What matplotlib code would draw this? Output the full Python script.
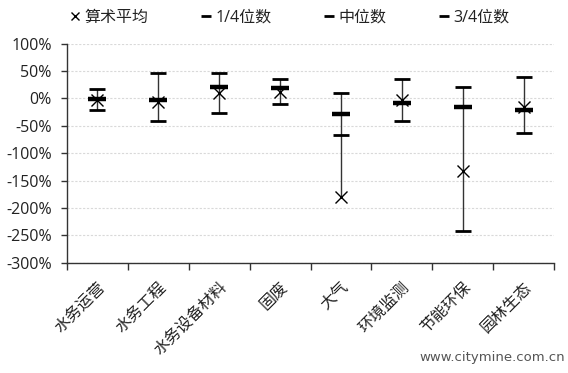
import numpy as np
import matplotlib
matplotlib.use("Agg")
import matplotlib.pyplot as plt
from matplotlib.lines import Line2D
from matplotlib.transforms import ScaledTranslation

plt.rcParams['font.family'] = ['Open Sans', 'Noto Sans CJK SC', 'DejaVu Sans']

# données (en %)
categories = ["水务运营", "水务工程", "水务设备材料", "固废", "大气", "环境监测", "节能环保", "园林生态"]
mean_vals = [-3, -6, 9, 12, -181, -4, -132, -15]
q1_vals = [-22, -41, -27, -11, -67, -41, -243, -64]
median_vals = [-2, -3, 21, 18, -28, -9, -15, -21]
q3_vals = [17, 47, 47, 35, 10, 35, 21, 39]
legend_labels = ["算术平均", "1/4位数", "中位数", "3/4位数"]

fig = plt.figure(figsize=(5.68, 3.73), dpi=100)
ax = fig.add_axes([67 / 568, 1 - 262.7 / 373, (554 - 67) / 568, (262.7 - 43.5) / 373])

x = np.arange(len(categories))
allv = np.array([mean_vals, q1_vals, median_vals, q3_vals])
lo = allv.min(axis=0)
hi = allv.max(axis=0)

# lignes haut-bas
ax.vlines(x, lo, hi, color="#333333", linewidth=1.0, zorder=2)
ax.plot(x, q1_vals, linestyle="none", marker="_", markersize=12, markeredgewidth=2, color="black", zorder=3)
ax.plot(x, q3_vals, linestyle="none", marker="_", markersize=12, markeredgewidth=2, color="black", zorder=3)
ax.plot(x, median_vals, linestyle="none", marker="_", markersize=13, markeredgewidth=3.2, color="black", zorder=4)
ax.plot(x, mean_vals, linestyle="none", marker="x", markersize=8, markeredgewidth=1.0, color="black", zorder=5)

ax.set_xlim(-0.5, len(categories) - 0.5)
ax.set_ylim(-300, 100)
ax.set_yticks(np.arange(-300, 101, 50))
ax.set_yticklabels([f"{v}%" for v in range(-300, 101, 50)], fontsize=11.5, color="#222222")
ax.yaxis.grid(True, color="#d9d9d9", linestyle=(0, (2, 1.5)), linewidth=0.8)
ax.set_axisbelow(True)

# ticks aux limites des catégories
ax.set_xticks(np.arange(-0.5, len(categories), 1.0))
ax.set_xticklabels([])
ax.set_xticks(x, minor=True)
ax.set_xticklabels(categories, minor=True, rotation=45, ha="right", va="top",
                   rotation_mode="anchor", fontsize=11.5, color="#222222")
shift = ScaledTranslation(5 / 100, 0, fig.dpi_scale_trans)
for lab in ax.get_xticklabels(minor=True):
    lab.set_transform(lab.get_transform() + shift)
ax.tick_params(axis="x", which="minor", length=0, pad=12)
ax.tick_params(axis="x", which="major", direction="out", length=5, width=1, color="#333333")
ax.tick_params(axis="y", direction="out", length=4, width=1, color="#333333", pad=7)

for s in ["top", "right"]:
    ax.spines[s].set_visible(False)
for s in ["left", "bottom"]:
    ax.spines[s].set_color("#333333")
    ax.spines[s].set_linewidth(1.0)

handles = [
    Line2D([], [], linestyle="none", marker="x", markersize=6, markeredgewidth=1, color="black"),
    Line2D([], [], linestyle="none", marker="_", markersize=7, markeredgewidth=2, color="black"),
    Line2D([], [], linestyle="none", marker="_", markersize=7, markeredgewidth=2, color="black"),
    Line2D([], [], linestyle="none", marker="_", markersize=7, markeredgewidth=2, color="black"),
]
fig.legend(handles, legend_labels, loc="center", bbox_to_anchor=(290 / 568, 1 - 18 / 373),
           ncol=4, frameon=False, fontsize=11.5, handlelength=0.6, handletextpad=0.3,
           columnspacing=3.3, labelcolor="#222222")

fig.text(565 / 568, 1 - 357 / 373, "www.citymine.com.cn", ha="right", va="center",
         fontsize=9.5, color="#555555", family="DejaVu Sans")

fig.savefig("out.png", dpi=100, facecolor="white")
